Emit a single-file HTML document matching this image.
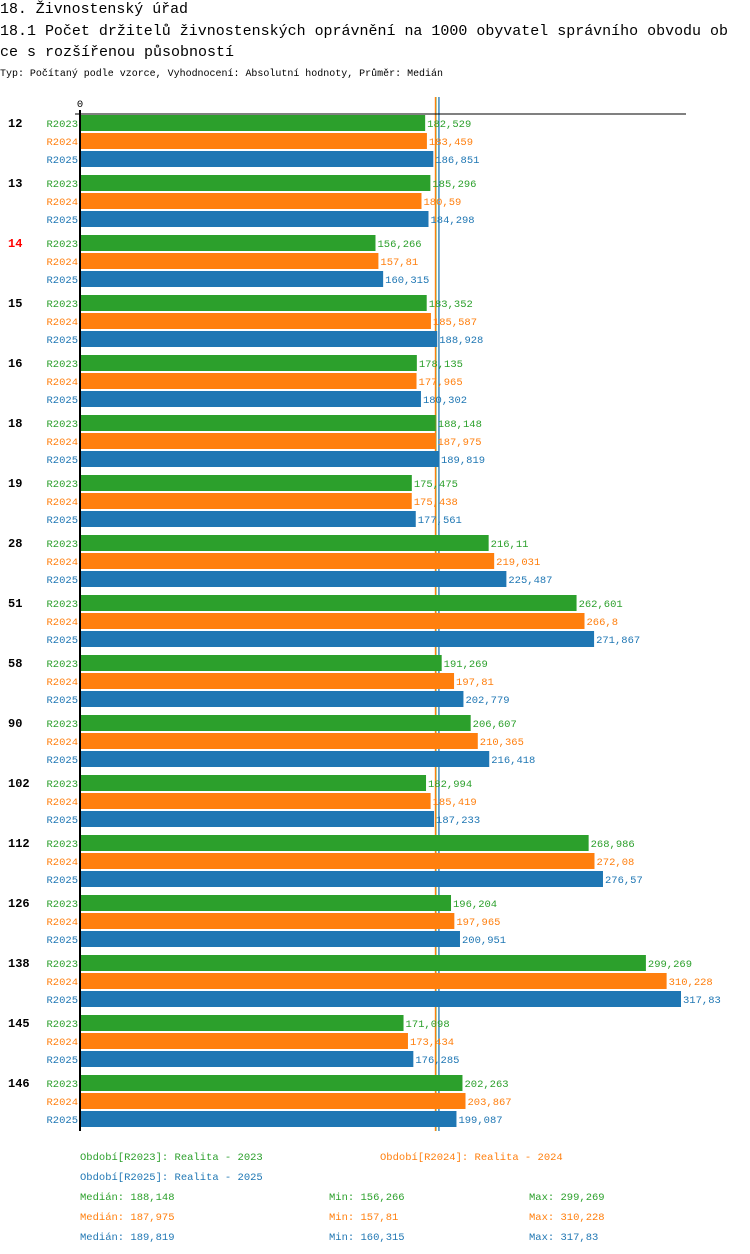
<!DOCTYPE html>
<html><head><meta charset="utf-8"><style>
html,body{margin:0;padding:0;background:#fff;}
svg{display:block;font-family:"Liberation Mono","DejaVu Sans Mono",monospace;}
</style></head><body>
<svg id="chart" width="750" height="1254" viewBox="0 0 750 1254" xmlns="http://www.w3.org/2000/svg">
<text x="0" y="13" font-size="15" textLength="188" lengthAdjust="spacingAndGlyphs">18. Živnostenský úřad</text>
<text x="0" y="35" font-size="15" textLength="728" lengthAdjust="spacingAndGlyphs">18.1 Počet držitelů živnostenských oprávnění na 1000 obyvatel správního obvodu ob</text>
<text x="0" y="56" font-size="15" textLength="234" lengthAdjust="spacingAndGlyphs">ce s rozšířenou působností</text>
<text x="0" y="76" font-size="10.5" textLength="443" lengthAdjust="spacingAndGlyphs">Typ: Počítaný podle vzorce, Vyhodnocení: Absolutní hodnoty, Průměr: Medián</text>
<g id="plot"></g>
</svg>
<script>
const categories = ["12","13","14","15","16","18","19","28","51","58","90","102","112","126","138","145","146"];
const seriesNames = ["R2023","R2024","R2025"];
const r2023 = [182.529,185.296,156.266,183.352,178.135,188.148,175.475,216.11,262.601,191.269,206.607,182.994,268.986,196.204,299.269,171.098,202.263];
const r2024 = [183.459,180.59,157.81,185.587,177.965,187.975,175.438,219.031,266.8,197.81,210.365,185.419,272.08,197.965,310.228,173.434,203.867];
const r2025 = [186.851,184.298,160.315,188.928,180.302,189.819,177.561,225.487,271.867,202.779,216.418,187.233,276.57,200.951,317.83,176.285,199.087];
const medians = [188.148,187.975,189.819];
const mins = [156.266,157.81,160.315];
const maxs = [299.269,310.228,317.83];
const highlighted = ["14"];

const colors = ["#2ca02c","#ff7f0e","#1f77b4"];
const series = [r2023,r2024,r2025];
const NS = "http://www.w3.org/2000/svg";
const g = document.getElementById("plot");
const x0 = 80, pxPer = 601 / 317.83;
const xScale = v => x0 + v * pxPer;
const groupY = i => 115 + i * 60;
const fmt = v => String(v).replace(".", ",");
function mk(tag, attrs, text) {
  const e = document.createElementNS(NS, tag);
  for (const k in attrs) e.setAttribute(k, attrs[k]);
  if (text !== undefined) e.textContent = text;
  g.appendChild(e);
  return e;
}
const bottom = groupY(categories.length) - 4;
medians.forEach((m, k) => {
  const l = mk("line", {x1: xScale(m), x2: xScale(m), y1: 97, y2: bottom, stroke: colors[k], "stroke-width": 1.3});
  
  
});
categories.forEach((c, i) => {
  const y = groupY(i);
  const lab = mk("text", {x: 8, y: y + 12, "font-size": 12, "font-weight": "bold", fill: highlighted.includes(c) ? "#ff0000" : "#000"}, c);
  
  
  series.forEach((s, k) => {
    const by = y + k * 18;
    const sl = mk("text", {x: 78, y: by + 12, "font-size": 10.5, "text-anchor": "end", fill: colors[k]}, seriesNames[k]);
    
    
    const r = mk("rect", {x: x0, y: by, width: xScale(s[i]) - x0, height: 16, fill: colors[k]});
    
    
    const vl = mk("text", {x: xScale(s[i]) + 2, y: by + 12, "font-size": 10.5, fill: colors[k]}, fmt(s[i]));
    
    
  });
});
const ax = mk("line", {x1: 75, x2: 686, y1: 114, y2: 114, stroke: "#000", "stroke-width": 1});


const ay = mk("line", {x1: 80, x2: 80, y1: 110, y2: bottom, stroke: "#000", "stroke-width": 2});


const z = mk("text", {x: 80, y: 107, "font-size": 10.5, "text-anchor": "middle"}, "0");


const legendPos = [[80,1160],[380,1160],[80,1180]];
seriesNames.forEach((n, k) => {
  const t = mk("text", {x: legendPos[k][0], y: legendPos[k][1], "font-size": 10.5, fill: colors[k]}, "Období[" + n + "]: Realita - " + n.slice(1));
  
  
  const y = 1200 + k * 20;
  const a = mk("text", {x: 80, y: y, "font-size": 10.5, fill: colors[k]}, "Medián: " + fmt(medians[k]));
  
  
  const b = mk("text", {x: 329, y: y, "font-size": 10.5, fill: colors[k]}, "Min: " + fmt(mins[k]));
  
  
  const c = mk("text", {x: 529, y: y, "font-size": 10.5, fill: colors[k]}, "Max: " + fmt(maxs[k]));
  
  
});
</script>
</body></html>
